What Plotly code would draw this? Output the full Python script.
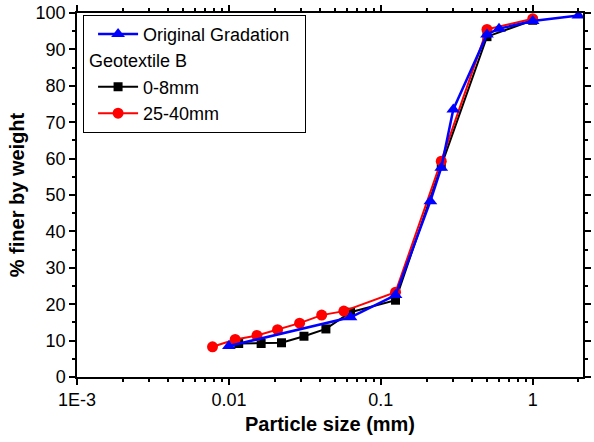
import plotly.graph_objects as go

# Original gradation (particle size in mm, % finer)
orig_size = [0.01, 0.0632, 0.125, 0.212, 0.25, 0.3, 0.5, 0.6, 1.0, 2.0]
orig_finer = [8.5, 16.4, 22.5, 48.3, 57.5, 73.5, 94.1, 95.7, 97.8, 99.3]

# Geotextile B, 0-8mm
g08_size = [0.0116, 0.0163, 0.0222, 0.0312, 0.0435, 0.0632, 0.125, 0.25, 0.5, 1.0]
g08_finer = [9.2, 9.2, 9.4, 11.2, 13.2, 17.8, 21.1, 58.0, 93.5, 98.0]

# Geotextile B, 25-40mm
g2540_size = [0.0078, 0.011, 0.0153, 0.0209, 0.0292, 0.0408, 0.0571, 0.125, 0.25, 0.5, 1.0]
g2540_finer = [8.3, 10.3, 11.4, 13.0, 14.8, 17.0, 18.1, 23.3, 59.3, 95.5, 98.4]

x_tickvals = [0.001, 0.01, 0.1, 1]
x_ticktext = ["1E-3", "0.01", "0.1", "1"]

FONT = "Liberation Sans, Arial, sans-serif"

fig = go.Figure()

fig.add_trace(go.Scatter(
    x=g08_size, y=g08_finer, mode="lines+markers", name="0-8mm",
    line=dict(color="black", width=2),
    marker=dict(symbol="square", size=9, color="black"),
    legendgroup="geo", legendgrouptitle=dict(text="Geotextile B"),
    legendrank=2,
))
fig.add_trace(go.Scatter(
    x=g2540_size, y=g2540_finer, mode="lines+markers", name="25-40mm",
    line=dict(color="red", width=2),
    marker=dict(symbol="circle", size=11, color="red"),
    legendgroup="geo", legendrank=3,
))
fig.add_trace(go.Scatter(
    x=orig_size, y=orig_finer, mode="lines+markers",
    name="Original Gradation\u00a0\u00a0",
    line=dict(color="blue", width=2.5),
    marker=dict(symbol="triangle-up", size=12, color="blue"),
    legendgroup="orig", legendrank=1,
))

minor_x = [m * 10.0 ** e for e in (-3, -2, -1, 0) for m in range(2, 10)]

fig.update_layout(
    width=594, height=442,
    margin=dict(l=77, r=3, t=13, b=65),
    paper_bgcolor="white", plot_bgcolor="white",
    font=dict(family=FONT, size=18, color="black"),
    showlegend=True,
    legend=dict(
        x=0.012, y=0.995, xanchor="left", yanchor="top",
        bgcolor="white", bordercolor="black", borderwidth=1,
        font=dict(family=FONT, size=18, color="black"),
        grouptitlefont=dict(family=FONT, size=18, color="black"),
        traceorder="grouped", tracegroupgap=0,
        itemwidth=40, indentation=9,
    ),
    xaxis=dict(
        type="log", range=[-3, 0.331],
        tickmode="array", tickvals=x_tickvals, ticktext=x_ticktext,
        ticks="outside", ticklen=6, tickwidth=1.5, tickcolor="black",
        minor=dict(tickmode="array", tickvals=minor_x, ticks="outside",
                   ticklen=3, tickwidth=1.5, tickcolor="black", showgrid=False),
        showline=True, linecolor="black", linewidth=1.5, mirror="allticks",
        showgrid=False, zeroline=False,
        title=dict(text="<b>Particle size (mm)</b>", standoff=8,
                   font=dict(family=FONT, size=20)),
        tickfont=dict(family=FONT, size=18),
    ),
    yaxis=dict(
        range=[0, 100], dtick=10, tick0=0,
        ticks="outside", ticklen=6, tickwidth=1.5, tickcolor="black",
        minor=dict(dtick=5, ticks="outside", ticklen=3, tickwidth=1.5,
                   tickcolor="black", showgrid=False),
        showline=True, linecolor="black", linewidth=1.5, mirror="allticks",
        showgrid=False, zeroline=False,
        title=dict(text="<b>% finer by weight</b>", standoff=6,
                   font=dict(family=FONT, size=20)),
        tickfont=dict(family=FONT, size=18),
    ),
)

fig.write_html("out.html")
